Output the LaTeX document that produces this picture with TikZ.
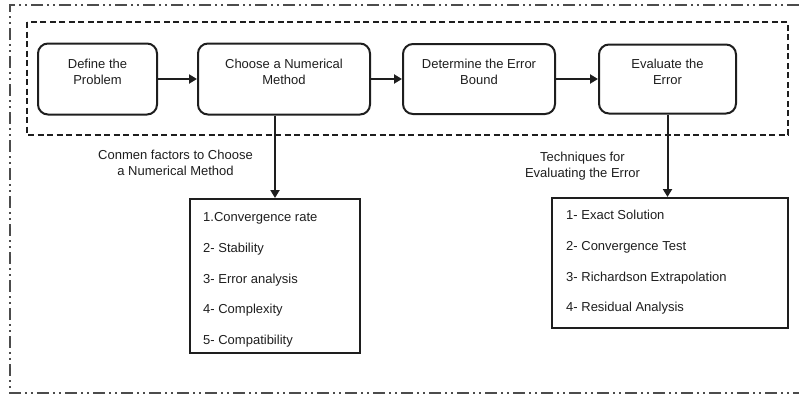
\documentclass[tikz,border=0pt]{standalone}
\usepackage{fontspec}
\setmainfont{Liberation Sans}
\usetikzlibrary{arrows.meta}
\definecolor{ink}{HTML}{1E1E1E}
\tikzset{
  proc/.style={draw=ink, line width=2pt, rounded corners=10pt, inner sep=0pt},
  txt/.style={font=\fontsize{13}{16.5}\selectfont, text=ink, align=center, inner sep=0pt},
  listbox/.style={draw=ink, line width=2pt, inner sep=0pt},
  itemtxt/.style={font=\fontsize{13}{16}\selectfont, text=ink, inner sep=0pt, anchor=base west},
  conn/.style={draw=ink, line width=2pt, -{Triangle[length=8pt,width=9pt]}},
  outerline/.style={draw=black!70, line width=2pt, dash pattern=on 12pt off 4pt on 2pt off 4pt on 2pt off 4pt},
  innerline/.style={draw=ink, line width=2pt, dash pattern=on 6pt off 3.5pt}
}
\begin{document}
\begin{tikzpicture}[x=1pt,y=-1pt]
\useasboundingbox (0,0) rectangle (799,399);
% outer dash-dot border
\draw[outerline] (799,5) -- (10,5) -- (10,393) -- (799,393);
% inner dashed group
\draw[innerline] (27,22) rectangle (788,135);
% process boxes
\node[proc, minimum width=119pt, minimum height=71pt] (b1) at (97.5,79) {};
\node[proc, minimum width=172pt, minimum height=71pt] (b2) at (284,79) {};
\node[proc, minimum width=152pt, minimum height=70pt] (b3) at (479,79) {};
\node[proc, minimum width=137pt, minimum height=69pt] (b4) at (667.5,79) {};
\node[txt] (t1) at ([yshift=7pt]b1.center) {Define the\\Problem};
\node[txt] (t2) at ([yshift=7pt]b2.center) {Choose a Numerical\\Method};
\node[txt] (t3) at ([yshift=7pt]b3.center) {Determine the Error\\Bound};
\node[txt] (t4) at ([yshift=7pt]b4.center) {Evaluate the\\Error};
\draw[conn] (b1) -- (b2);
\draw[conn] (b2) -- (b3);
\draw[conn] (b3) -- (b4);
% list boxes
\node[listbox, minimum width=170pt, minimum height=154pt] (l1) at (275,276) {};
\node[listbox, minimum width=236pt, minimum height=130pt] (l2) at (670,263) {};
\draw[conn] (l1.north |- b2.south) -- (l1.north);
\draw[conn] (b4.south) -- (b4.south |- l2.north);
% labels
\node[txt] (c1) at (175.5,163) {Conmen factors to Choose\\a Numerical Method};
\node[txt] (c2) at (582.5,166) {Techniques for\\Evaluating the Error};
% list items
\node[itemtxt] (i11) at (203,221) {1.Convergence rate};
\node[itemtxt] (i12) at (203,252) {2- Stability};
\node[itemtxt] (i13) at (203,283) {3- Error analysis};
\node[itemtxt] (i14) at (203,313.5) {4- Complexity};
\node[itemtxt] (i15) at (203,344) {5- Compatibility};
\node[itemtxt] (i21) at (566,219.5) {1- Exact Solution};
\node[itemtxt] (i22) at (566,250) {2- Convergence Test};
\node[itemtxt] (i23) at (566,281) {3- Richardson Extrapolation};
\node[itemtxt] (i24) at (566,311.5) {4- Residual Analysis};
\end{tikzpicture}
\end{document}
